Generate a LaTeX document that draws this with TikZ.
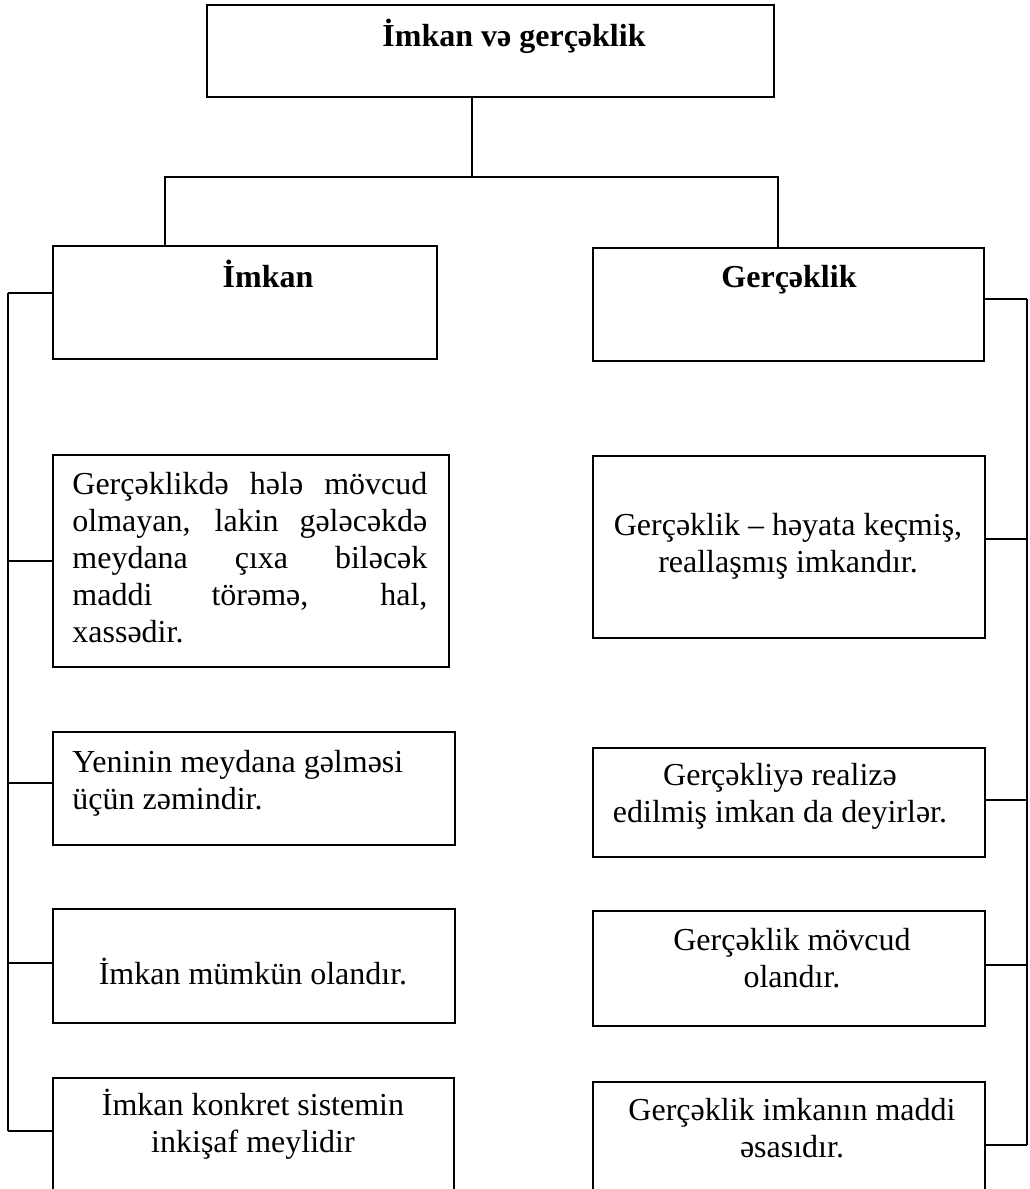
\documentclass[tikz,border=0pt]{standalone}
\usepackage{fontspec}
\setmainfont{Liberation Serif}

\tikzset{
  box/.style 2 args={draw,line width=0.75pt,inner sep=0pt,anchor=north west,
    minimum width=#1*0.5pt,minimum height=#2*0.5pt},
  link/.style={line width=0.6pt},
  txt/.style={anchor=base,inner sep=0pt,font=\fontsize{16}{18.5}\selectfont},
  head/.style={txt,font=\fontsize{16}{18.5}\selectfont\bfseries},
}

\begin{document}
\begin{tikzpicture}[x=0.5pt,y=-0.5pt]
  \path[use as bounding box,fill=white] (0,0) rectangle (1029,1189);

  % boxes
  \node[box={567}{92}] (top) at (206,4) {};
  \node[box={384}{113}] (imkan) at (52,245) {};
  \node[box={391}{113}] (gercek) at (592,247) {};
  \node[box={396}{212}] (l1) at (52,454) {};
  \node[box={402}{113}] (l2) at (52,731) {};
  \node[box={402}{114}] (l3) at (52,908) {};
  \node[box={401}{120}] (l4) at (52,1077) {};
  \node[box={392}{182}] (r1) at (592,455) {};
  \node[box={392}{109}] (r2) at (592,747) {};
  \node[box={392}{115}] (r3) at (592,910) {};
  \node[box={392}{116}] (r4) at (592,1081) {};

  % texts (multi-line: base = last line)
  \node[head] (t-top) at (514,46) {İmkan və gerçəklik};
  \node[head] (t-imkan) at (268,287) {İmkan};
  \node[head] (t-gercek) at (789,287) {Gerçəklik};
  \node[txt,anchor=base west,align=left] (t-l1) at (72,642)
    {\makebox[177.5pt][s]{Gerçəklikdə hələ mövcud}\\
     \makebox[177.5pt][s]{olmayan, lakin gələcəkdə}\\
     \makebox[177.5pt][s]{meydana çıxa biləcək}\\
     \makebox[177.5pt][s]{maddi törəmə, hal,}\\
     xassədir.};
  \node[txt,anchor=base west,align=left] (t-l2) at (72,809) {Yeninin meydana gəlməsi\\üçün zəmindir.};
  \node[txt] (t-l3) at (253,984) {İmkan mümkün olandır.};
  \node[txt,align=center] (t-l4) at (253,1152) {İmkan konkret sistemin\\inkişaf meylidir};
  \node[txt,align=center] (t-r1) at (788,572) {Gerçəklik – həyata keçmiş,\\reallaşmış imkandır.};
  \node[txt,align=center] (t-r2) at (780,822) {Gerçəkliyə realizə\\edilmiş imkan da deyirlər.};
  \node[txt,align=center] (t-r3) at (792,987) {Gerçəklik mövcud\\olandır.};
  \node[txt,align=center] (t-r4) at (792,1157) {Gerçəklik imkanın maddi\\əsasıdır.};

  % tree
  \coordinate (hub) at (472,177);
  \coordinate (splitL) at (165,177);
  \coordinate (splitR) at (778,177);
  \draw[link] (hub |- top.south) -- (hub);
  \draw[link] (splitL |- imkan.north) -- (splitL) -- (splitR) -- (splitR |- gercek.north);

  % side brackets
  \draw[link] (8,293) -- (8,1131);
  \foreach \b/\y in {imkan/293,l1/561,l2/783,l3/963,l4/1131}
    \draw[link] (\b.west |- 0,\y) -- (8,\y);
  \draw[link] (1027,299) -- (1027,1145);
  \foreach \b/\y in {gercek/299,r1/539,r2/800,r3/965,r4/1145}
    \draw[link] (\b.east |- 0,\y) -- (1027,\y);
\end{tikzpicture}
\end{document}
